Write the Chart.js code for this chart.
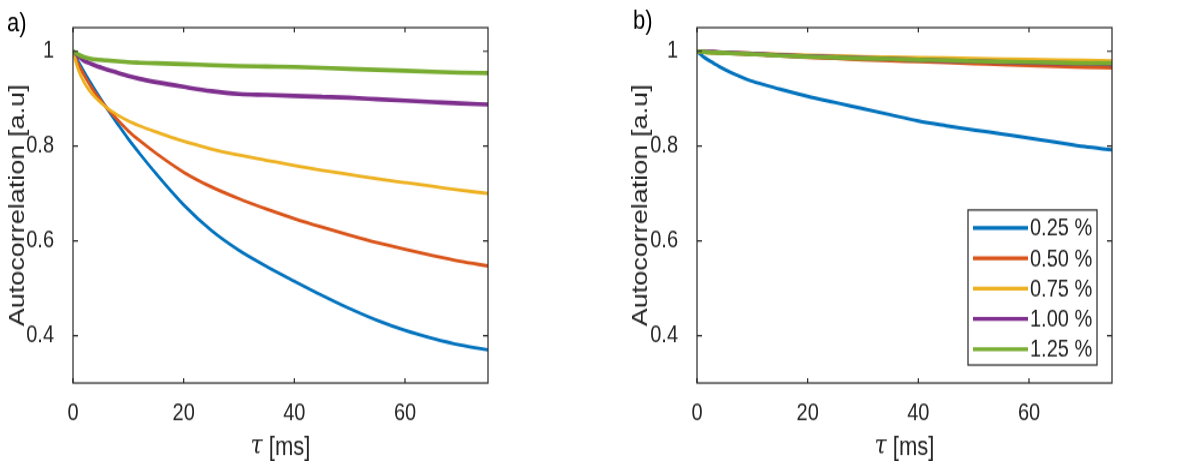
<!DOCTYPE html>
<html>
<head>
<meta charset="utf-8">
<script src="https://cdn.jsdelivr.net/npm/chart.js@4.4.1/dist/chart.umd.min.js"></script>
<style>
  body { margin: 0; background: #fff; }
  canvas { position: absolute; top: 0; }
</style>
</head>
<body>
<canvas id="chartA" width="600" height="384" style="left:0;width:600px;height:461px"></canvas>
<canvas id="chartB" width="600" height="384" style="left:600px;width:600px;height:461px"></canvas>
<script>
// lag time in ms
const tau = [0, 1, 2, 3, 4, 6, 8, 10, 12, 15, 20, 25, 30, 35, 40, 45, 50, 55, 60, 65, 70, 75];
const labels = ['0.25 %', '0.50 %', '0.75 %', '1.00 %', '1.25 %'];
const xTicks = [0, 20, 40, 60];
const yTicks = [0.4, 0.6, 0.8, 1];

// panel a)
const a025 = [1.0, 0.978, 0.957, 0.937, 0.918, 0.882, 0.848, 0.815, 0.785, 0.742, 0.676, 0.622, 0.58, 0.546, 0.515, 0.485, 0.457, 0.432, 0.411, 0.394, 0.38, 0.37];
const a050 = [1.0, 0.972, 0.95, 0.93, 0.912, 0.882, 0.856, 0.832, 0.812, 0.785, 0.745, 0.714, 0.689, 0.667, 0.647, 0.629, 0.612, 0.596, 0.582, 0.569, 0.557, 0.547];
const a075 = [1.0, 0.96, 0.935, 0.917, 0.903, 0.882, 0.866, 0.853, 0.843, 0.83, 0.81, 0.794, 0.781, 0.77, 0.759, 0.749, 0.74, 0.731, 0.723, 0.715, 0.707, 0.70];
const a100 = [1.0, 0.99, 0.98, 0.975, 0.97, 0.962, 0.955, 0.948, 0.942, 0.935, 0.925, 0.916, 0.91, 0.908, 0.906, 0.904, 0.902, 0.899, 0.896, 0.893, 0.89, 0.888];
const a125 = [1.0, 0.993, 0.988, 0.985, 0.983, 0.981, 0.979, 0.977, 0.976, 0.975, 0.973, 0.971, 0.969, 0.968, 0.967, 0.965, 0.963, 0.961, 0.959, 0.957, 0.955, 0.954];

// panel b)
const b025 = [1.0, 0.99, 0.982, 0.975, 0.968, 0.956, 0.946, 0.937, 0.93, 0.92, 0.905, 0.892, 0.879, 0.866, 0.853, 0.843, 0.834, 0.826, 0.817, 0.808, 0.799, 0.792];
const b050 = [1.0, 0.999, 0.998, 0.998, 0.997, 0.996, 0.995, 0.994, 0.993, 0.991, 0.988, 0.986, 0.983, 0.981, 0.979, 0.977, 0.975, 0.973, 0.971, 0.969, 0.967, 0.966];
const b075 = [1.0, 0.999, 0.998, 0.998, 0.997, 0.996, 0.996, 0.995, 0.994, 0.993, 0.991, 0.99, 0.988, 0.987, 0.986, 0.985, 0.984, 0.983, 0.982, 0.981, 0.98, 0.979];
const b100 = [1.0, 1.0, 0.999, 0.999, 0.998, 0.997, 0.996, 0.995, 0.994, 0.992, 0.99, 0.988, 0.986, 0.984, 0.982, 0.98, 0.979, 0.977, 0.976, 0.975, 0.974, 0.973];
const b125 = [1.0, 0.999, 0.998, 0.997, 0.997, 0.996, 0.995, 0.994, 0.993, 0.991, 0.989, 0.987, 0.985, 0.984, 0.982, 0.981, 0.979, 0.978, 0.977, 0.976, 0.975, 0.975];

const colors = ['#0072BD', '#D95319', '#EDB120', '#7E2F8E', '#77AC30'];
const ink = '#262626';
const H = 384;           // canvas buffer height, stretched to 461 by css
const SY = 461 / H;

Chart.defaults.font.family = '"Liberation Sans", Arial, sans-serif';
Chart.defaults.color = ink;

// matlab style box with inward ticks on all sides
const boxPlugin = {
  id: 'box',
  afterDatasetsDraw(chart) {
    const { ctx, chartArea: a, scales: { x, y } } = chart;
    ctx.save();
    ctx.strokeStyle = ink;
    ctx.lineWidth = 1.2;
    ctx.strokeRect(a.left, a.top, a.right - a.left, a.bottom - a.top);
    ctx.beginPath();
    x.ticks.forEach(t => {
      const px = x.getPixelForValue(t.value);
      ctx.moveTo(px, a.bottom); ctx.lineTo(px, a.bottom - 4);
      ctx.moveTo(px, a.top); ctx.lineTo(px, a.top + 4);
    });
    y.ticks.forEach(t => {
      const py = y.getPixelForValue(t.value);
      ctx.moveTo(a.left, py); ctx.lineTo(a.left + 5, py);
      ctx.moveTo(a.right, py); ctx.lineTo(a.right - 5, py);
    });
    ctx.stroke();
    ctx.restore();
  }
};

// panel letter, x title with italic tau, optional legend box
const textPlugin = {
  id: 'texts',
  afterDraw(chart, args, opts) {
    const { ctx, chartArea: a } = chart;
    ctx.save();
    ctx.fillStyle = '#000';
    ctx.textBaseline = 'middle';
    ctx.font = '22px "Liberation Sans", Arial, sans-serif';
    ctx.fillText(opts.letter, opts.letterX, opts.letterY);

    const tauFont = 'italic 22px "DejaVu Serif", serif';
    const restFont = '22px "Liberation Sans", Arial, sans-serif';
    const ty = 448 / SY;
    ctx.fillStyle = ink;
    ctx.font = tauFont;
    const w1 = ctx.measureText('τ').width;
    ctx.font = restFont;
    const w2 = ctx.measureText(' [ms]').width;
    const x0 = (a.left + a.right) / 2 - (w1 + w2) / 2;
    ctx.font = tauFont;
    ctx.fillText('τ', x0, ty - 1);
    ctx.font = restFont;
    ctx.fillText(' [ms]', x0 + w1, ty);

    if (opts.legend) {
      const L = opts.legend;
      ctx.fillStyle = '#fff';
      ctx.fillRect(L.x, L.y, L.w, L.h);
      ctx.strokeStyle = ink;
      ctx.lineWidth = 1.2;
      ctx.strokeRect(L.x, L.y, L.w, L.h);
      ctx.font = '20px "Liberation Sans", Arial, sans-serif';
      chart.data.datasets.forEach((ds, i) => {
        const yy = L.y + L.first + i * L.row;
        ctx.strokeStyle = ds.borderColor;
        ctx.lineWidth = 3.2;
        ctx.beginPath();
        ctx.moveTo(L.x + 5, yy);
        ctx.lineTo(L.x + 60, yy);
        ctx.stroke();
        ctx.fillStyle = ink;
        ctx.fillText(ds.label, L.x + 62, yy + 1);
      });
    }
    ctx.restore();
  }
};

function makeChart(id, series, widths, yAxisWidth, padRight, titlePad, texts) {
  const datasets = series.map((s, i) => ({
    label: labels[i],
    data: tau.map((t, k) => ({ x: t, y: s[k] })),
    borderColor: colors[i],
    borderWidth: widths[i],
    pointRadius: 0,
    cubicInterpolationMode: 'monotone',
    fill: false,
    order: series.length - i
  }));
  return new Chart(document.getElementById(id), {
    type: 'line',
    data: { datasets },
    options: {
      responsive: false,
      animation: false,
      devicePixelRatio: 1,
      layout: { padding: { top: 13 / SY, right: padRight, left: 0, bottom: 0 } },
      plugins: { legend: { display: false }, tooltip: { enabled: false }, texts },
      scales: {
        x: {
          type: 'linear', min: 0, max: 75,
          grid: { display: false }, border: { display: false },
          afterBuildTicks: s => { s.ticks = xTicks.map(v => ({ value: v })); },
          ticks: { font: { size: 20 }, color: ink, padding: 5, maxRotation: 0 },
          afterFit: s => { s.height = H - 383 / SY; }
        },
        y: {
          type: 'linear', min: 0.3, max: 1.05,
          grid: { display: false }, border: { display: false },
          afterBuildTicks: s => { s.ticks = yTicks.map(v => ({ value: v })); },
          ticks: { font: { size: 20 }, color: ink, padding: 11, callback: v => String(Number(v.toFixed(2))) },
          title: { display: true, text: 'Autocorrelation [a.u]', font: { size: 22.5 }, color: ink, padding: { top: titlePad, bottom: 0 } },
          afterFit: s => { s.width = yAxisWidth; }
        }
      }
    },
    plugins: [boxPlugin, textPlugin]
  });
}

makeChart('chartA', [a025, a050, a075, a100, a125], [2.8, 2.8, 2.8, 3.6, 3.6], 73, 112, 4,
  { letter: 'a)', letterX: 7, letterY: 24 / SY });
makeChart('chartB', [b025, b050, b075, b100, b125], [3, 3.6, 3.6, 3.6, 3.6], 97, 88, 27,
  { letter: 'b)', letterX: 33, letterY: 22 / SY,
    legend: { x: 368, y: 210 / SY, w: 129, h: 155 / SY, first: 18 / SY, row: 30.3 / SY } });
</script>
</body>
</html>
